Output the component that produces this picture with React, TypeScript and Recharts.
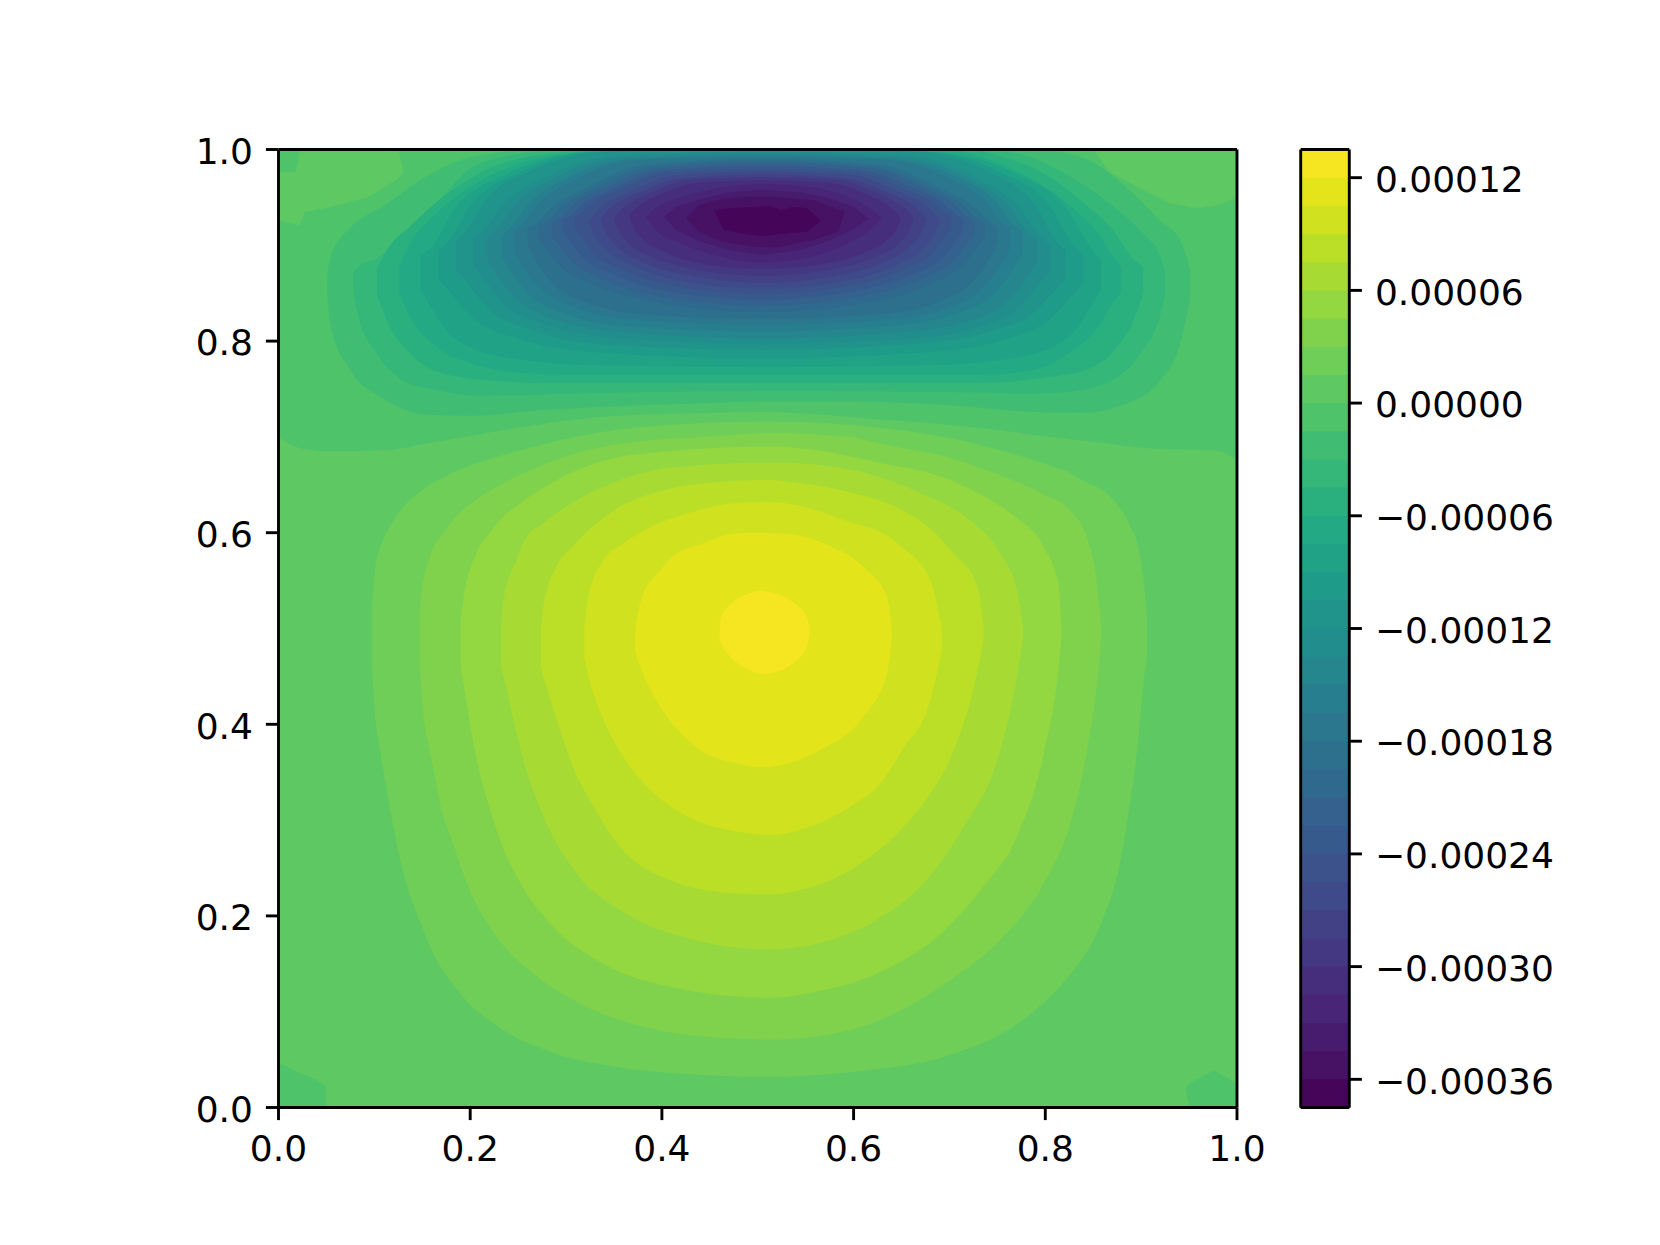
import React from 'react';
import { ComposedChart, Area, XAxis, YAxis, ReferenceLine } from 'recharts';

type Row = [number, number, number];

const axisTicks = [0, 0.2, 0.4, 0.6, 0.8, 1];
const colorbarTicks = [0.00012, 0.00006, 0, -0.00006, -0.00012, -0.00018, -0.00024, -0.0003, -0.00036];

// contour levels, bottom to top of the colorbar
const levels = [
    -0.000375, -0.00036, -0.000345, -0.00033, -0.000315, -0.0003, -0.000285, -0.00027, -0.000255, -0.00024,
    -0.000225, -0.00021, -0.000195, -0.00018, -0.000165, -0.00015, -0.000135, -0.00012, -0.000105, -0.00009,
    -0.000075, -0.00006, -0.000045, -0.00003, -0.000015, 0, 0.000015, 0.00003, 0.000045, 0.00006,
    0.000075, 0.00009, 0.000105, 0.00012, 0.000135,
];

const bandColors = [
    '#45065a', '#471164', '#471b6d', '#482576', '#472e7c', '#453882', '#424186', '#3e4a89', '#3b528b',
    '#375a8c', '#34618d', '#30698e', '#2d708e', '#2a778e', '#277e8e', '#25868e', '#228d8d', '#20948b',
    '#1e9b89', '#20a287', '#23a984', '#2ab07f', '#34b779', '#40bd72', '#4fc36a', '#5ec962', '#6ece58',
    '#80d24d', '#93d741', '#a7db34', '#bbdf27', '#cfe11f', '#e3e419', '#f5e621',
];

// every contour is [x, lower y, upper y]
const fullField: Row[] = [[0, 0, 1], [1, 0, 1]];

const upper26: Row[] = [[.0973,.46,.52],[.1007,.41,.561],[.106,.373,.585],[.1094,.352,.593],[.1164,.311,.607],[.1303,.245,.627],[.1512,.185,.645],[.1581,.168,.65],[.1895,.119,.666],[.2347,.081,.681],[.2869,.057,.695],[.339,.0445,.7055],[.4088,.036,.7124],[.513,.032,.716],[.5965,.037,.7124],[.7009,.055,.6985],[.7705,.087,.681],[.8053,.116,.67],[.8227,.135,.664],[.84,.157,.654],[.8575,.19,.646],[.8784,.258,.625],[.8888,.321,.606],[.8957,.37,.59],[.9046,.46,.53],[.9062,.47,.51]];
const upper27: Row[] = [[.1477,.46,.515],[.1494,.43,.537],[.1599,.363,.58],[.172,.304,.6],[.179,.285,.61],[.1964,.234,.627],[.2278,.178,.648],[.2695,.137,.668],[.3217,.105,.686],[.3739,.086,.695],[.4436,.074,.7],[.513,.071,.704],[.5965,.081,.7],[.6314,.093,.692],[.7009,.133,.678],[.7531,.175,.66],[.7984,.234,.64],[.8262,.297,.623],[.8436,.373,.595],[.8558,.46,.53],[.8584,.49,.5]];
const upper28: Row[] = [[.1902,.46,.51],[.1929,.443,.53],[.2068,.363,.579],[.2208,.311,.6],[.2347,.27,.617],[.2486,.241,.628],[.2834,.192,.651],[.339,.15,.675],[.4088,.126,.685],[.513,.1145,.69],[.5618,.121,.686],[.6314,.143,.672],[.687,.178,.66],[.7357,.231,.638],[.7705,.283,.615],[.7984,.37,.585],[.8139,.46,.545],[.8168,.49,.5]];
const upper29: Row[] = [[.2319,.46,.5],[.2347,.45,.53],[.2486,.39,.572],[.2556,.363,.59],[.2764,.304,.61],[.3113,.244,.634],[.3565,.206,.655],[.4088,.182,.668],[.513,.165,.673],[.5618,.171,.671],[.6244,.196,.659],[.6731,.234,.64],[.7148,.293,.618],[.7531,.373,.578],[.7705,.45,.54],[.7768,.49,.5]];
const upper30: Row[] = [[.2737,.46,.5],[.2764,.45,.523],[.2903,.405,.565],[.3043,.363,.583],[.3287,.314,.607],[.3565,.272,.627],[.4088,.2375,.646],[.461,.225,.653],[.513,.2225,.655],[.5444,.227,.6515],[.5965,.248,.642],[.6453,.286,.626],[.6801,.328,.604],[.7044,.373,.578],[.7288,.454,.545],[.7357,.49,.5]];
const upper31: Row[] = [[.3189,.47,.5],[.3233,.45,.533],[.339,.405,.571],[.3617,.363,.59],[.3844,.335,.604],[.4261,.304,.62],[.4784,.288,.631],[.513,.2845,.632],[.5444,.29,.628],[.5965,.314,.611],[.6314,.342,.599],[.6505,.373,.585],[.6801,.425,.55],[.692,.477,.5]];
const upper32: Row[] = [[.3721,.475,.5],[.3774,.46,.527],[.3983,.418,.561],[.4157,.395,.5785],[.44,.373,.588],[.4784,.3593,.5995],[.5027,.355,.6],[.5374,.361,.598],[.5687,.375,.589],[.6105,.408,.564],[.6349,.453,.533],[.6401,.49,.5]];
const upper33: Row[] = [[.4601,.488,.49],[.4615,.485,.512],[.4748,.467,.528],[.4922,.4566,.537],[.5026,.4526,.5393],[.5235,.456,.535],[.5374,.464,.527],[.5514,.481,.512],[.5541,.495,.5]];

const lower25: Row[] = [[0,.7,1],[.024,.688,1],[.059,.685,1],[.109,.686,1],[.165,.695,1],[.235,.707,1],[.339,.721,1],[.45,.725,1],[.5,.726,1],[.631,.718,1],[.736,.709,1],[.805,.7,1],[.858,.694,1],[.91,.688,1],[.976,.686,1],[1,.676,1]];

// small patches against the walls
const topLeftPatch: Row[] = [[0,.926,1],[.0224,.921,1],[.0276,.935,1],[.0503,.939,1],[.0955,.951,1],[.125,.97,1],[.1303,.977,.977]];
const topLeftCorner: Row[] = [[0,.976,1],[.018,.976,1],[.0224,1,1]];
const topRightPatch: Row[] = [[.8505,1,1],[.866,.977,1],[.8957,.961,1],[.93,.944,1],[.9584,.939,1],[.9755,.941,1],[1,.949,1]];
const bottomLeftCorner: Row[] = [[0,0,.047],[.0224,0,.036],[.038,0,.03],[.0496,0,.022],[.0497,0,0]];
const bottomRightCorner: Row[] = [[.9463,.02,.02],[.9498,0,.025],[.976,0,.039],[1,0,.025]];

const lower24: Row[] = [[.051,.846,.871],[.0545,.815,.889],[.0746,.77,.918],[.1094,.74,.941],[.1547,.723,.972],[.2,.722,.992],[.2765,.728,1],[.4436,.735,1],[.513,.737,1],[.5965,.737,1],[.7009,.733,1],[.7879,.726,1],[.8401,.725,.991],[.8853,.735,.96],[.9202,.759,.925],[.941,.798,.905],[.951,.843,.875]];
const lower23: Row[] = [[.078,.852,.872],[.0833,.8255,.878],[.1025,.787,.886],[.1303,.759,.91],[.165,.749,.945],[.2068,.743,.984],[.2695,.744,.998],[.3,.745,1],[.513,.748,1],[.74,.746,1],[.7705,.745,.996],[.8123,.746,.979],[.8574,.754,.951],[.8714,.76,.94],[.8993,.787,.915],[.9213,.832,.885],[.925,.85,.872]];
const lower22: Row[] = [[.1025,.85,.875],[.1128,.822,.895],[.1373,.787,.92],[.172,.766,.951],[.2347,.758,.986],[.287,.756,.996],[.32,.756,1],[.513,.756,1],[.72,.756,1],[.7566,.757,.992],[.7984,.762,.975],[.8401,.769,.944],[.8714,.79,.915],[.8922,.822,.885],[.902,.85,.878]];
const lower21: Row[] = [[.126,.85,.878],[.1373,.8255,.902],[.165,.794,.9335],[.2068,.775,.965],[.252,.767,.9856],[.3043,.765,.996],[.34,.765,1],[.513,.765,1],[.7,.765,1],[.7357,.765,.991],[.7879,.77,.968],[.8227,.786,.944],[.8574,.818,.909],[.8696,.839,.89],[.879,.85,.878]];
const lower20: Row[] = [[.148,.855,.89],[.1587,.836,.897],[.1837,.803,.938],[.2373,.783,.974],[.3265,.775,.997],[.505,.773,1],[.6815,.775,.997],[.7698,.783,.974],[.8227,.803,.938],[.8474,.836,.897],[.858,.855,.885]];
const lower19: Row[] = [[.167,.865,.895],[.1771,.853,.904],[.2008,.826,.942],[.2515,.802,.976],[.336,.788,.998],[.505,.782,1],[.672,.788,.998],[.7555,.801,.975],[.8056,.824,.94],[.829,.849,.9],[.839,.86,.89]];
const lower18: Row[] = [[.185,.875,.905],[.1946,.864,.914],[.217,.836,.948],[.265,.811,.978],[.345,.796,.998],[.505,.791,1],[.663,.797,.998],[.742,.81,.976],[.7894,.831,.942],[.8115,.855,.904],[.821,.865,.895]];
const lower17: Row[] = [[.203,.88,.908],[.2121,.868,.914],[.2332,.841,.941],[.2785,.817,.971],[.354,.803,.994],[.505,.797,.998],[.655,.802,.994],[.73,.815,.969],[.775,.838,.937],[.796,.863,.908],[.805,.875,.9]];
const lower16: Row[] = [[.218,.885,.91],[.2266,.871,.916],[.2467,.846,.942],[.2898,.822,.971],[.3615,.809,.992],[.505,.803,.996],[.648,.809,.992],[.7195,.821,.97],[.7624,.844,.94],[.7824,.869,.913],[.791,.882,.908]];
const lower15: Row[] = [[.233,.888,.91],[.2412,.875,.917],[.2602,.85,.942],[.301,.828,.97],[.369,.815,.99],[.505,.81,.994],[.6405,.816,.99],[.708,.829,.971],[.749,.852,.945],[.768,.878,.92],[.776,.892,.915]];
const lower14: Row[] = [[.246,.893,.915],[.2538,.88,.921],[.2719,.857,.944],[.3108,.835,.969],[.3755,.822,.989],[.505,.817,.992],[.634,.822,.989],[.6985,.835,.97],[.7372,.858,.946],[.7553,.883,.923],[.763,.897,.918]];
const lower13: Row[] = [[.26,.9,.918],[.2674,.886,.922],[.2845,.862,.939],[.3213,.84,.96],[.3825,.828,.984],[.505,.823,.99],[.6275,.828,.984],[.6888,.841,.96],[.7255,.863,.94],[.7427,.887,.924],[.75,.902,.92]];
const lower12: Row[] = [[.272,.905,.92],[.279,.896,.924],[.2953,.877,.94],[.3303,.858,.96],[.3885,.841,.982],[.505,.83,.988],[.621,.841,.982],[.679,.859,.961],[.7138,.879,.942],[.73,.899,.927],[.737,.907,.923]];
const lower11: Row[] = [[.285,.91,.923],[.2916,.901,.927],[.307,.883,.942],[.34,.864,.96],[.395,.847,.98],[.505,.837,.986],[.6155,.848,.981],[.6708,.865,.961],[.7039,.884,.943],[.7194,.903,.929],[.726,.91,.925]];
const lower10: Row[] = [[.297,.915,.927],[.3032,.905,.93],[.3178,.887,.943],[.349,.87,.959],[.401,.853,.978],[.505,.843,.983],[.6095,.854,.978],[.6618,.87,.96],[.6931,.888,.944],[.7077,.906,.931],[.714,.915,.928]];
const lower9: Row[] = [[.309,.918,.93],[.3149,.91,.933],[.3286,.892,.945],[.358,.875,.959],[.407,.859,.976],[.505,.849,.98],[.6035,.859,.976],[.6528,.875,.959],[.6823,.892,.945],[.6961,.91,.933],[.702,.918,.93]];
const lower8: Row[] = [[.324,.925,.925],[.3294,.911,.933],[.3421,.895,.944],[.3693,.879,.957],[.4145,.864,.973],[.505,.855,.977],[.5975,.864,.973],[.6438,.879,.957],[.6715,.895,.944],[.6845,.912,.933],[.69,.926,.926]];
const lower7: Row[] = [[.336,.927,.927],[.3411,.914,.934],[.3529,.899,.944],[.3783,.883,.956],[.4205,.87,.97],[.505,.861,.974],[.5905,.87,.97],[.6333,.883,.956],[.659,.899,.944],[.6709,.914,.934],[.676,.927,.927]];
const lower6: Row[] = [[.35,.928,.928],[.3547,.916,.934],[.3655,.902,.943],[.3888,.888,.955],[.4275,.876,.968],[.505,.868,.971],[.584,.876,.968],[.6235,.888,.955],[.6472,.902,.943],[.6583,.916,.934],[.663,.928,.928]];
const lower5: Row[] = [[.366,.93,.93],[.3702,.919,.936],[.3799,.906,.944],[.4008,.894,.954],[.4355,.882,.965],[.505,.875,.968],[.577,.882,.965],[.613,.893,.953],[.6346,.905,.942],[.6447,.917,.934],[.649,.928,.928]];
const lower4: Row[] = [[.383,.93,.93],[.395,.915,.94],[.42,.902,.95],[.45,.891,.958],[.505,.882,.964],[.56,.889,.96],[.59,.9,.952],[.612,.912,.942],[.63,.928,.928]];
const lower3: Row[] = [[.402,.93,.93],[.415,.916,.94],[.44,.904,.948],[.47,.895,.955],[.505,.89,.958],[.545,.895,.955],[.575,.905,.949],[.6,.917,.94],[.616,.928,.928]];
const lower2: Row[] = [[.4254,.9282,.9282],[.4382,.915,.942],[.4608,.9045,.948],[.4957,.8985,.9507],[.5196,.8979,.9505],[.5583,.9056,.947],[.5844,.9141,.9375],[.5906,.9358,.9358]];
const lower1: Row[] = [[.4544,.9358,.9358],[.4644,.9159,.938],[.4818,.9125,.9395],[.5026,.9096,.9405],[.5131,.9105,.941],[.5235,.9115,.9368],[.5374,.9131,.9403],[.5514,.9141,.9386],[.566,.9257,.9257]];

// paint order, each entry is a contour and its band index
const layers: [Row[], number][] = [
    [fullField, 25],
    [upper26, 26], [upper27, 27], [upper28, 28], [upper29, 29], [upper30, 30], [upper31, 31], [upper32, 32], [upper33, 33],
    [lower25, 24],
    [topLeftPatch, 25], [topLeftCorner, 24], [topRightPatch, 25], [bottomLeftCorner, 24], [bottomRightCorner, 24],
    [lower24, 23], [lower23, 22], [lower22, 21], [lower21, 20], [lower20, 19], [lower19, 18], [lower18, 17], [lower17, 16],
    [lower16, 15], [lower15, 14], [lower14, 13], [lower13, 12], [lower12, 11], [lower11, 10], [lower10, 9], [lower9, 8],
    [lower8, 7], [lower7, 6], [lower6, 5], [lower5, 4], [lower4, 3], [lower3, 2], [lower2, 1], [lower1, 0],
];

// these keep their corners, the rest are drawn as smooth contours
const sharpContours = [topLeftPatch, topLeftCorner, topRightPatch, bottomLeftCorner, bottomRightCorner, lower3, lower2, lower1];

const toBand = (rows: Row[]) => rows.map(([x, lo, hi]) => ({ x, band: [lo, hi] }));

const FONT = { fontSize: 36, fill: '#000', fontFamily: 'DejaVu Sans', dy: 1.5 };
const LINE = { stroke: '#000', strokeWidth: 2.9 };
const TICK_SIZE = 12.6;

const formatColorbar = (v: number) => (v < 0 ? '\u2212' : '') + Math.abs(v).toFixed(5);

const App: React.FC = () => (
    <div style={{ position: 'absolute', left: 0, top: 0, width: 1660, height: 1245, background: '#fff', overflow: 'hidden' }}>
        <div style={{ position: 'absolute', left: 0, top: 0 }}>
            <ComposedChart width={1660} height={1245} margin={{ top: 149.5, left: 178.5, right: 423, bottom: 37.5 }}>
                {layers.map(([rows, band], i) => (
                    <Area
                        key={`layer-${i}`}
                        data={toBand(rows)}
                        dataKey="band"
                        type={sharpContours.includes(rows) ? 'linear' : 'monotoneX'}
                        fill={bandColors[band]}
                        fillOpacity={1}
                        stroke="none"
                        dot={false}
                        activeDot={false}
                        isAnimationActive={false}
                    />
                ))}
                <ReferenceLine x={1} stroke="#000" strokeWidth={2.9} />
                <ReferenceLine y={1} stroke="#000" strokeWidth={2.9} />
                <XAxis
                    dataKey="x"
                    type="number"
                    domain={[0, 1]}
                    ticks={axisTicks}
                    interval={0}
                    height={100}
                    tickSize={TICK_SIZE}
                    tickMargin={13.5}
                    tick={FONT}
                    axisLine={LINE}
                    tickLine={LINE}
                    tickFormatter={(v: number) => v.toFixed(1)}
                />
                <YAxis
                    type="number"
                    domain={[0, 1]}
                    ticks={axisTicks}
                    interval={0}
                    width={100}
                    tickSize={TICK_SIZE}
                    tickMargin={13}
                    tick={FONT}
                    axisLine={LINE}
                    tickLine={LINE}
                    tickFormatter={(v: number) => v.toFixed(1)}
                />
            </ComposedChart>
        </div>
        <div style={{ position: 'absolute', left: 0, top: 0 }}>
            <ComposedChart width={1660} height={1245} margin={{ top: 149.5, left: 1300.7, right: 60.7, bottom: 137.5 }}>
                {/* painted top band first, each one reaching down to the bottom of the bar so no seams show */}
                {bandColors.map((_, n) => {
                    const i = bandColors.length - 1 - n;
                    const band = [levels[0], levels[i + 1]];
                    return (
                        <Area
                            key={`bar-${i}`}
                            data={[{ x: 0, band }, { x: 1, band }]}
                            dataKey="band"
                            type="linear"
                            fill={bandColors[i]}
                            fillOpacity={1}
                            stroke="none"
                            dot={false}
                            activeDot={false}
                            isAnimationActive={false}
                        />
                    );
                })}
                <ReferenceLine x={0} stroke="#000" strokeWidth={2.9} />
                <ReferenceLine y={levels[0]} stroke="#000" strokeWidth={2.9} />
                <ReferenceLine y={levels[levels.length - 1]} stroke="#000" strokeWidth={2.9} />
                <XAxis dataKey="x" type="number" domain={[0, 1]} hide />
                <YAxis
                    type="number"
                    orientation="right"
                    domain={[levels[0], levels[levels.length - 1]]}
                    ticks={colorbarTicks}
                    interval={0}
                    width={250}
                    tickSize={TICK_SIZE}
                    tickMargin={13}
                    tick={FONT}
                    axisLine={LINE}
                    tickLine={LINE}
                    tickFormatter={formatColorbar}
                />
            </ComposedChart>
        </div>
    </div>
);

export default App;
